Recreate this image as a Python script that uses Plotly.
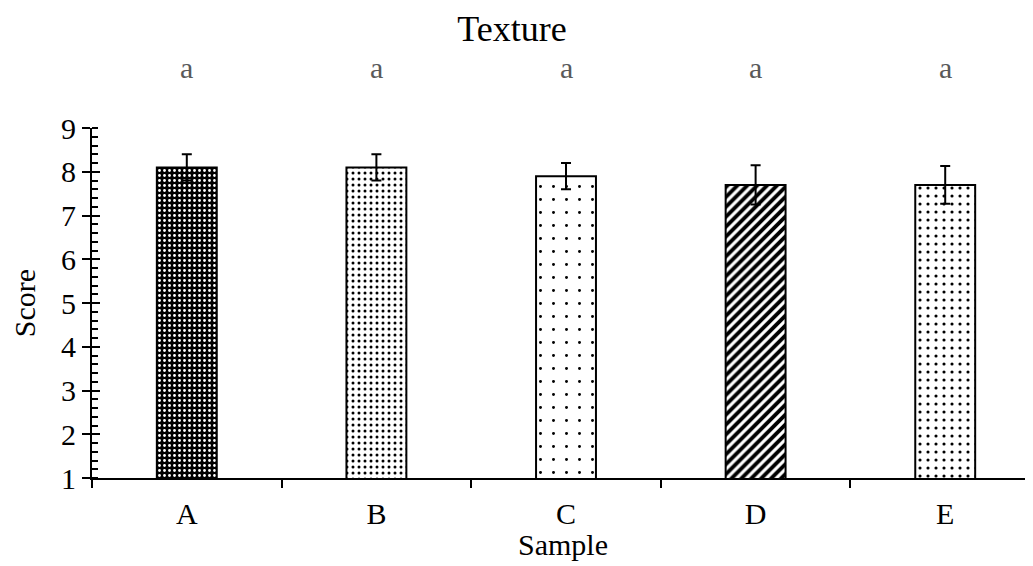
import plotly.graph_objects as go

categories = ["A", "B", "C", "D", "E"]
scores = [8.1, 8.1, 7.9, 7.7, 7.7]
errors = [0.3, 0.3, 0.3, 0.45, 0.43]
letters = ["a", "a", "a", "a", "a"]

patterns = [
    dict(shape=".", bgcolor="black", fgcolor="white", size=5, solidity=0.25, fgopacity=1),
    dict(shape=".", bgcolor="white", fgcolor="black", size=6, solidity=0.2, fgopacity=1),
    dict(shape=".", bgcolor="white", fgcolor="black", size=13, solidity=0.04, fgopacity=1),
    dict(shape="/", bgcolor="white", fgcolor="black", size=7, solidity=0.55, fgopacity=1),
    dict(shape=".", bgcolor="white", fgcolor="black", size=8, solidity=0.12, fgopacity=1),
]

FONT = "Liberation Serif"
TICK = 30

fig = go.Figure()
for i, c in enumerate(categories):
    fig.add_trace(go.Bar(
        x=[c], y=[scores[i]], width=0.316,
        marker=dict(color="white", line=dict(color="black", width=2), pattern=patterns[i]),
        error_y=dict(type="data", array=[errors[i]], color="black", thickness=2, width=5),
        showlegend=False,
    ))

# invisible trace for the overlay y axis (inside major ticks)
fig.add_trace(go.Scatter(x=categories, y=scores, yaxis="y2", mode="markers",
                         marker=dict(opacity=0), showlegend=False, hoverinfo="skip"))

for c, l in zip(categories, letters):
    fig.add_annotation(x=c, y=1.174, xref="x", yref="paper", text=l, showarrow=False,
                       font=dict(family=FONT, size=TICK, color="#595959"), yanchor="middle")

# x axis title
fig.add_annotation(x=0.5 * (4.463 - 0.5) / 4.963 + 0.5 / 4.963, y=-0.189, xref="paper", yref="paper",
                   text="Sample", showarrow=False, yanchor="middle",
                   font=dict(family=FONT, size=TICK, color="black"))

fig.update_layout(
    width=1025, height=558,
    margin=dict(l=84, r=0, t=120, b=88),
    plot_bgcolor="white", paper_bgcolor="white",
    font=dict(family=FONT, size=TICK, color="black"),
    title=dict(text="Texture", x=(512 - 8) / 1025, xanchor="center", y=1 - 20 / 558, yanchor="middle",
               font=dict(family=FONT, size=36, color="black")),
    barmode="overlay",
    xaxis=dict(
        type="category", categoryorder="array", categoryarray=categories,
        range=[-0.5, 4.463], tickson="boundaries",
        showline=True, linecolor="black", linewidth=2,
        ticks="outside", ticklen=8, tickwidth=2, tickcolor="black",
        showgrid=False, zeroline=False, automargin=False, ticklabelstandoff=8,
        tickfont=dict(family=FONT, size=TICK, color="black"),
    ),
    yaxis=dict(
        range=[1, 9], dtick=1, tick0=1,
        showline=True, linecolor="black", linewidth=2,
        ticks="outside", ticklen=8, tickwidth=2, tickcolor="black",
        minor=dict(ticks="inside", dtick=0.2, ticklen=6, tickwidth=2, tickcolor="black", showgrid=False),
        showgrid=False, zeroline=False, automargin=False,
        tickfont=dict(family=FONT, size=TICK, color="black"),
        title=dict(text="Score", font=dict(family=FONT, size=TICK, color="black"), standoff=19),
    ),
    yaxis2=dict(
        overlaying="y", range=[1, 9], dtick=1, tick0=1, side="left",
        ticks="inside", ticklen=8, tickwidth=2, tickcolor="black",
        showticklabels=False, showgrid=False, zeroline=False, showline=False,
    ),
)

fig.write_html("out.html")
